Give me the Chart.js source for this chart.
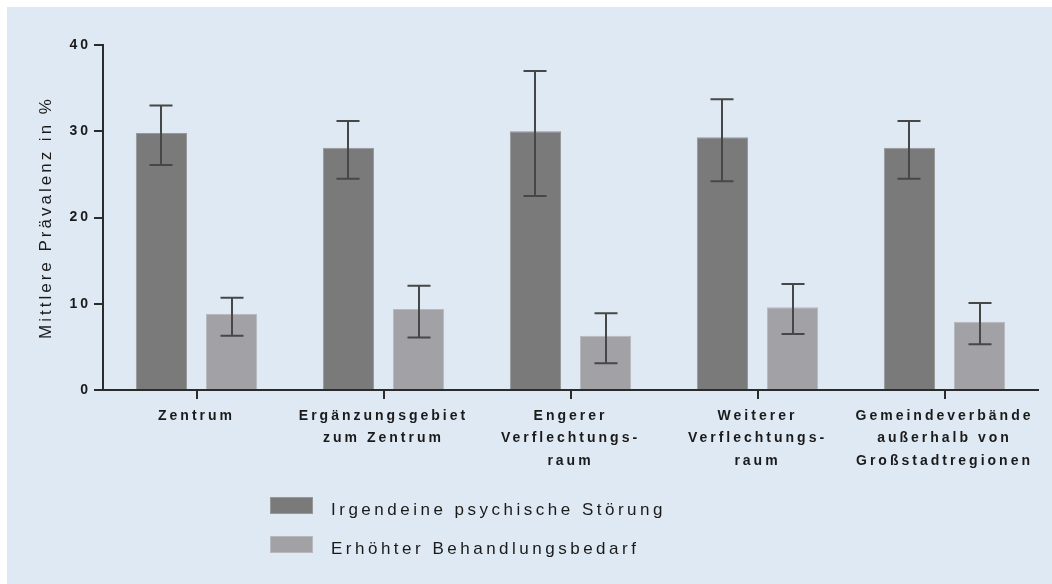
<!DOCTYPE html>
<html>
<head>
<meta charset="utf-8">
<title>Mittlere Prävalenz</title>
<script src="https://cdn.jsdelivr.net/npm/chart.js@4.4.1/dist/chart.umd.min.js"></script>
<style>
  html, body { margin: 0; padding: 0; background: #ffffff; }
  canvas { display: block; }
</style>
</head>
<body>
<canvas id="chart1" width="1052" height="584"></canvas>
<script>
var categories = [
  ["Zentrum"],
  ["Ergänzungsgebiet", "zum Zentrum"],
  ["Engerer", "Verflechtungs-", "raum"],
  ["Weiterer", "Verflechtungs-", "raum"],
  ["Gemeindeverbände", "außerhalb von", "Großstadtregionen"]
];

// Irgendeine psychische Störung
var stoerung     = [29.8, 28.1, 30.0, 29.3, 28.1];
var stoerungLow  = [26.1, 24.5, 22.5, 24.2, 24.5];
var stoerungHigh = [33.0, 31.2, 37.0, 33.7, 31.2];

// Erhöhter Behandlungsbedarf
var bedarf     = [8.8, 9.4, 6.3, 9.6, 7.9];
var bedarfLow  = [6.3, 6.1, 3.1, 6.5, 5.3];
var bedarfHigh = [10.7, 12.1, 8.9, 12.3, 10.1];

var yTicks = [0, 10, 20, 30, 40];

var textColor = '#1a1a1a';
var axisColor = '#2b2b2b';

Chart.defaults.font.family = "'Liberation Sans', Arial, sans-serif";
Chart.defaults.color = textColor;

// canvas letter spacing, the reference text is spaced out
var spacing = {
  id: 'spacing',
  beforeUpdate: function(chart) { chart.ctx.letterSpacing = '3px'; },
  beforeLayout: function(chart) { chart.ctx.letterSpacing = '3px'; },
  beforeDraw: function(chart) {
    var ctx = chart.ctx;
    ctx.letterSpacing = '3px';
    ctx.save();
    ctx.fillStyle = '#dfe9f3';
    ctx.fillRect(7, 7, chart.width - 7, chart.height - 7);
    ctx.restore();
  }
};

var errorBars = {
  id: 'errorBars',
  afterDatasetsDraw: function(chart) {
    var ctx = chart.ctx;
    var y = chart.scales.y;
    ctx.save();
    ctx.strokeStyle = '#474747';
    ctx.lineWidth = 2;
    chart.data.datasets.forEach(function(ds, i) {
      var meta = chart.getDatasetMeta(i);
      meta.data.forEach(function(bar, j) {
        var top = y.getPixelForValue(ds.errHigh[j]);
        var bot = y.getPixelForValue(ds.errLow[j]);
        var x = Math.round(bar.x);
        ctx.beginPath();
        ctx.moveTo(x, top);
        ctx.lineTo(x, bot);
        ctx.moveTo(x - 11.5, top);
        ctx.lineTo(x + 11.5, top);
        ctx.moveTo(x - 11.5, bot);
        ctx.lineTo(x + 11.5, bot);
        ctx.stroke();
      });
    });
    ctx.restore();
  }
};

// legend stacked in two rows below the axis labels
var stackedLegend = {
  id: 'stackedLegend',
  afterDraw: function(chart) {
    var ctx = chart.ctx;
    ctx.save();
    ctx.letterSpacing = '3.5px';
    ctx.font = "17px 'Liberation Sans', Arial, sans-serif";
    ctx.textBaseline = 'alphabetic';
    ctx.textAlign = 'left';
    chart.data.datasets.forEach(function(ds, i) {
      var top = 497 + i * 39;
      ctx.fillStyle = ds.borderColor;
      ctx.fillRect(270, top, 43, 17);
      ctx.fillStyle = ds.backgroundColor;
      ctx.fillRect(271, top + 1, 41, 15);
      ctx.fillStyle = textColor;
      ctx.fillText(ds.label, 331, top + 18);
    });
    ctx.restore();
  }
};

new Chart("chart1", {
  type: "bar",
  data: {
    labels: categories,
    datasets: [{
      label: 'Irgendeine psychische Störung',
      data: stoerung,
      errLow: stoerungLow,
      errHigh: stoerungHigh,
      backgroundColor: '#7a7a7a',
      borderColor: '#979797',
      borderWidth: 1,
      borderSkipped: 'bottom'
    },
    {
      label: 'Erhöhter Behandlungsbedarf',
      data: bedarf,
      errLow: bedarfLow,
      errHigh: bedarfHigh,
      backgroundColor: '#a2a1a6',
      borderColor: '#b9b9bd',
      borderWidth: 1,
      borderSkipped: 'bottom'
    }]
  },
  options: {
    responsive: false,
    animation: false,
    categoryPercentage: 0.75,
    barPercentage: 0.73,
    layout: {
      padding: { top: 45, right: 14, bottom: 94, left: 0 }
    },
    plugins: {
      legend: { display: false },
      tooltip: { enabled: false }
    },
    scales: {
      x: {
        afterFit: function(scale) { scale.height = 100; },
        grid: {
          offset: false,
          drawOnChartArea: false,
          drawTicks: true,
          tickLength: 9,
          color: axisColor,
          lineWidth: 2
        },
        border: { display: true, color: axisColor, width: 2 },
        ticks: {
          autoSkip: false,
          maxRotation: 0,
          padding: 6,
          color: textColor,
          font: { size: 14, weight: 'bold', lineHeight: 1.6 }
        }
      },
      y: {
        min: 0,
        max: 40,
        afterFit: function(scale) { scale.width = 103; },
        afterBuildTicks: function(scale) {
          scale.ticks = yTicks.map(function(v) { return { value: v }; });
        },
        grid: {
          drawOnChartArea: false,
          drawTicks: true,
          tickLength: 9,
          color: axisColor,
          lineWidth: 2
        },
        border: { display: true, color: axisColor, width: 2 },
        ticks: {
          padding: 3,
          color: textColor,
          font: { size: 14, weight: 'bold' }
        },
        title: {
          display: true,
          text: 'Mittlere Prävalenz in %',
          color: textColor,
          font: { size: 17, weight: 'normal' },
          padding: { top: 36, bottom: 0 }
        }
      }
    }
  },
  plugins: [spacing, errorBars, stackedLegend]
});
</script>
</body>
</html>
